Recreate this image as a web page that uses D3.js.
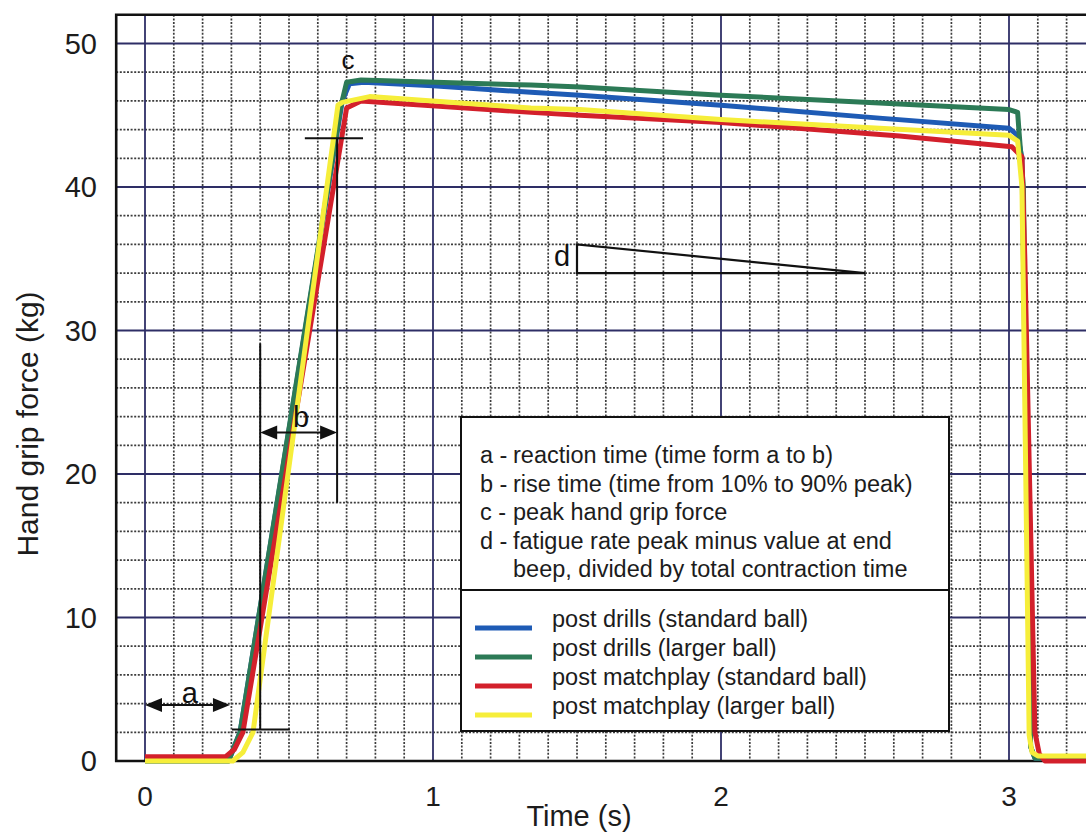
<!DOCTYPE html>
<html>
<head>
<meta charset="utf-8">
<script src="https://cdn.jsdelivr.net/npm/d3@7"></script>
<style>
  body { margin: 0; background: #fff; }
  svg { display: block; font-family: "Liberation Sans", Arial, sans-serif; }
</style>
</head>
<body>
<svg id="chart" width="1086" height="835"></svg>
<script>
// ---- data -------------------------------------------------------------
const xTickValues = [0, 1, 2, 3];
const yTickValues = [0, 10, 20, 30, 40, 50];

const seriesLabels = [
  "post drills (standard ball)",
  "post drills (larger ball)",
  "post matchplay (standard ball)",
  "post matchplay (larger ball)"
];
const seriesColors = ["#1e5bb5", "#2c7a56", "#d3202b", "#f6ee3a"];

// time (s) / force (kg) for each trace
const drillsStdTime  = [0, 0.29, 0.33, 0.685, 0.71, 0.76, 1.0, 1.34, 1.51, 2.0, 2.55, 3.0, 3.03, 3.045, 3.075, 3.09, 3.3];
const drillsStdForce = [0, 0, 2, 46.0, 47.2, 47.3, 47.05, 46.6, 46.4, 45.7, 44.8, 44.1, 43.6, 42.0, 1.0, 0.2, 0.2];

const drillsLrgTime  = [0, 0.29, 0.33, 0.68, 0.70, 0.75, 1.34, 1.51, 2.0, 2.55, 3.0, 3.03, 3.035, 3.05, 3.075, 3.09, 3.3];
const drillsLrgForce = [0, 0, 2, 45.6, 47.3, 47.45, 47.1, 46.97, 46.4, 45.85, 45.4, 45.2, 43.8, 40.0, 1.0, 0.2, 0.2];

const matchStdTime  = [0, 0.28, 0.31, 0.34, 0.70, 0.75, 1.34, 1.51, 2.0, 2.62, 3.01, 3.045, 3.055, 3.09, 3.105, 3.125, 3.3];
const matchStdForce = [0.3, 0.3, 0.8, 2.0, 45.5, 46.0, 45.2, 45.0, 44.5, 43.55, 42.8, 42.1, 35.0, 2.0, 0.5, 0, 0];

const matchLrgTime  = [0, 0.305, 0.34, 0.375, 0.67, 0.685, 0.78, 1.34, 1.51, 2.0, 2.55, 3.0, 3.03, 3.045, 3.07, 3.08, 3.1, 3.3];
const matchLrgForce = [0, 0, 0.6, 2.0, 45.7, 45.9, 46.3, 45.5, 45.4, 44.7, 44.1, 43.6, 43.2, 40.0, 1.8, 0.6, 0.35, 0.35];

const legendNotes = [
  ["a -", "reaction time (time form a to b)"],
  ["b -", "rise time (time from 10% to 90% peak)"],
  ["c -", "peak hand grip force"],
  ["d -", "fatigue rate peak minus value at end"],
  ["",    "beep, divided by total contraction time"]
];

// ---- scales -------------------------------------------------------------
const svg = d3.select("#chart");
const x = d3.scaleLinear().domain([0, 3]).range([145, 1009]);
const y = d3.scaleLinear().domain([0, 50]).range([761, 43.5]);
const xMin = -0.1, xMax = 3.4, yMax = 52;

// ---- grid ---------------------------------------------------------------
const grid = svg.append("g");
const minorX = d3.range(1, 34).map(i => i / 10).filter(v => Math.abs(v - Math.round(v)) > 1e-6);
const minorY = d3.range(2, 52, 2).filter(v => v % 10 !== 0);

grid.selectAll("line.mx").data(minorX).join("line")
  .attr("x1", d => x(d)).attr("x2", d => x(d))
  .attr("y1", y(yMax)).attr("y2", y(0))
  .attr("stroke", "#3c3c3c").attr("stroke-width", 1.7).attr("stroke-dasharray", "2,1.6");
grid.selectAll("line.my").data(minorY).join("line")
  .attr("x1", x(xMin)).attr("x2", x(xMax))
  .attr("y1", d => y(d)).attr("y2", d => y(d))
  .attr("stroke", "#3c3c3c").attr("stroke-width", 1.7).attr("stroke-dasharray", "2,1.6");

grid.selectAll("line.MX").data(xTickValues).join("line")
  .attr("x1", d => x(d)).attr("x2", d => x(d))
  .attr("y1", y(yMax)).attr("y2", y(0))
  .attr("stroke", "#2e2e66").attr("stroke-width", 1.8);
grid.selectAll("line.MY").data(yTickValues.filter(v => v > 0)).join("line")
  .attr("x1", x(xMin)).attr("x2", x(xMax))
  .attr("y1", d => y(d)).attr("y2", d => y(d))
  .attr("stroke", "#2e2e66").attr("stroke-width", 1.8);

// frame
const frame = svg.append("g").attr("stroke", "#111").attr("stroke-width", 2.6).attr("fill", "none");
frame.append("path").attr("d", `M${x(xMax)},${y(yMax)}H${x(xMin)}V${y(0)}H${x(xMax)}`);

// ---- axis labels ------------------------------------------------------
svg.append("g").selectAll("text").data(yTickValues).join("text")
  .attr("x", 97).attr("y", d => y(d)).attr("dy", "0.36em")
  .attr("text-anchor", "end").attr("font-size", 29).attr("fill", "#1c1c1c")
  .text(d => d);

svg.append("g").selectAll("text").data(xTickValues).join("text")
  .attr("x", d => x(d)).attr("y", 806)
  .attr("text-anchor", "middle").attr("font-size", 28).attr("fill", "#1c1c1c")
  .text(d => d);

svg.append("text").attr("x", 579).attr("y", 826)
  .attr("text-anchor", "middle").attr("font-size", 29).attr("fill", "#1c1c1c")
  .text("Time (s)");

svg.append("text").attr("transform", "translate(38,424) rotate(-90)")
  .attr("text-anchor", "middle").attr("font-size", 30).attr("fill", "#1c1c1c")
  .text("Hand grip force (kg)");

// ---- traces -----------------------------------------------------------
const line = d3.line().x(d => x(d[0])).y(d => y(d[1]));
const traces = [
  d3.zip(drillsStdTime, drillsStdForce),
  d3.zip(drillsLrgTime, drillsLrgForce),
  d3.zip(matchStdTime, matchStdForce),
  d3.zip(matchLrgTime, matchLrgForce)
];
svg.append("g").selectAll("path").data(traces).join("path")
  .attr("d", line)
  .attr("fill", "none")
  .attr("stroke", (d, i) => seriesColors[i])
  .attr("stroke-width", 5)
  .attr("stroke-linejoin", "round");

// ---- annotations --------------------------------------------------------
const ann = svg.append("g").attr("stroke", "#111").attr("stroke-width", 2).attr("fill", "none");
const seg = (x1, y1, x2, y2) => ann.append("line")
  .attr("x1", x(x1)).attr("y1", y(y1)).attr("x2", x(x2)).attr("y2", y(y2));

seg(0.555, 43.4, 0.757, 43.4);   // 90% peak marker
seg(0.667, 18, 0.667, 43.4);
seg(0.40, 2.2, 0.40, 29.1);      // 10% peak marker
seg(0.302, 2.2, 0.503, 2.2);

function doubleArrow(x1, x2, yv) {
  const px1 = x(x1), px2 = x(x2), py = y(yv), L = 17, H = 7;
  ann.append("line").attr("x1", px1 + 4).attr("x2", px2 - 4).attr("y1", py).attr("y2", py);
  svg.append("path").attr("fill", "#111")
    .attr("d", `M${px1},${py}L${px1 + L},${py - H}L${px1 + L},${py + H}Z`);
  svg.append("path").attr("fill", "#111")
    .attr("d", `M${px2},${py}L${px2 - L},${py - H}L${px2 - L},${py + H}Z`);
}
doubleArrow(0, 0.295, 3.9);
doubleArrow(0.40, 0.667, 22.9);

// fatigue triangle
ann.append("path").attr("stroke-width", 2.2)
  .attr("d", `M${x(1.5)},${y(36)}L${x(1.5)},${y(34)}L${x(2.5)},${y(34)}Z`);

const annText = [["a", 0.156, 4.8, 29], ["b", 0.542, 24.0, 29], ["c", 0.705, 48.85, 26], ["d", 1.448, 35.2, 29]];
svg.append("g").selectAll("text").data(annText).join("text")
  .attr("x", d => x(d[1])).attr("y", d => y(d[2])).attr("dy", "0.36em")
  .attr("text-anchor", "middle").attr("font-size", d => d[3]).attr("fill", "#111")
  .text(d => d[0]);

// ---- key box --------------------------------------------------------------
const box = svg.append("g");
box.append("rect").attr("x", 461).attr("y", 417).attr("width", 488).attr("height", 314)
  .attr("fill", "#fff").attr("stroke", "#111").attr("stroke-width", 2);
box.append("line").attr("x1", 461).attr("x2", 949).attr("y1", 590).attr("y2", 590)
  .attr("stroke", "#111").attr("stroke-width", 2);

const noteRows = box.selectAll("g.note").data(legendNotes).join("g")
  .attr("transform", (d, i) => `translate(0,${463 + i * 28.5})`);
noteRows.append("text").attr("x", 480).attr("font-size", 23.5).attr("fill", "#1c1c1c").text(d => d[0]);
noteRows.append("text").attr("x", 513).attr("font-size", 23.5).attr("fill", "#1c1c1c").text(d => d[1]);

const keyRows = box.selectAll("g.key").data(seriesLabels).join("g")
  .attr("transform", (d, i) => `translate(0,${627 + i * 29})`);
keyRows.append("line").attr("x1", 475).attr("x2", 532).attr("y1", 1).attr("y2", 1)
  .attr("stroke", (d, i) => seriesColors[i]).attr("stroke-width", 5);
keyRows.append("text").attr("x", 552).attr("font-size", 23.5).attr("fill", "#1c1c1c").text(d => d);
</script>
</body>
</html>
